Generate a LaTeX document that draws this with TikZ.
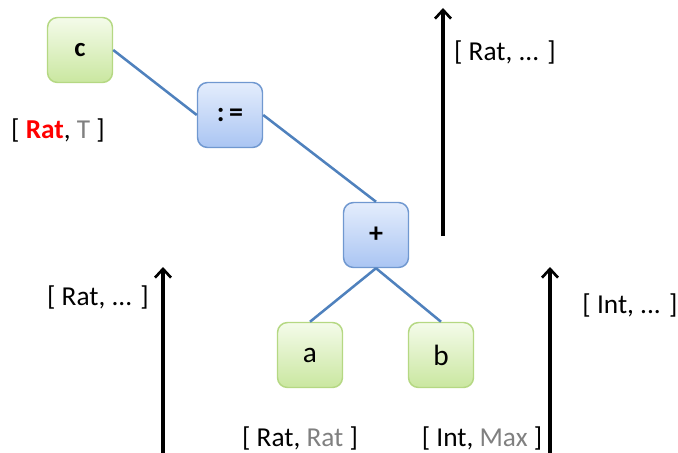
\documentclass[tikz,border=0pt]{standalone}
\usepackage{fontspec}
\setmainfont{Carlito}
\usetikzlibrary{positioning,arrows.meta}
\definecolor{leafbord}{HTML}{B5D883}
\definecolor{leaftop}{HTML}{F4FBEA}
\definecolor{leafbot}{HTML}{CAE7A0}
\definecolor{opbord}{HTML}{7098D0}
\definecolor{optop}{HTML}{E4EDFC}
\definecolor{opbot}{HTML}{AAC5F3}
\definecolor{edgeblue}{HTML}{4F81BD}
\definecolor{typegray}{HTML}{808080}
\tikzset{
  leaf/.style={rectangle,rounded corners=7.5pt,draw=leafbord,line width=1.1pt,
    top color=leaftop,bottom color=leafbot,minimum size=48.75pt,inner sep=0pt,
    font=\fontsize{22}{24}\selectfont},
  op/.style={rectangle,rounded corners=7.5pt,draw=opbord,line width=1.1pt,
    top color=optop,bottom color=opbot,minimum size=48.75pt,inner sep=0pt,
    font=\fontsize{21}{24}\selectfont\bfseries},
  tree/.style={draw=edgeblue,line width=1.9pt},
  flow/.style={-{Straight Barb[length=6.5pt,width=12pt,line width=2pt]},line width=2.3pt},
  ty/.style={font=\fontsize{20.5}{24}\selectfont,inner sep=0pt},
}
\newcommand{\grayty}[1]{\textcolor{typegray}{#1}}
\begin{document}
\begin{tikzpicture}[x=0.75pt,y=-0.75pt]
  \useasboundingbox (0,0) rectangle (678,453);
  % expression tree
  \node[leaf,font=\fontsize{20}{24}\selectfont\bfseries] (c) at (80,50) {c};
  \node[op] (asg) at (230,115) {:\,=};
  \node[op] (plus) at (376,235) {+};
  \node[leaf] (a) at (310,355) {a};
  \node[leaf] (b) at (441,355) {b};
  \draw[tree] (c.east) -- (asg.west);
  \draw[tree] (asg.east) -- (plus.north);
  \draw[tree] (plus.south) -- (a.north);
  \draw[tree] (plus.south) -- (b.north);
  % flow arrows
  \coordinate (lfrom) at (163,456);
  \coordinate (lto) at (163,267);
  \coordinate (mfrom) at (443,236);
  \coordinate (mto) at (443,8);
  \coordinate (rfrom) at (550,456);
  \coordinate (rto) at (550,267);
  \draw[flow] (lfrom) -- (lto);
  \draw[flow] (mfrom) -- (mto);
  \draw[flow] (rfrom) -- (rto);
  % type pairs
  \node[ty] (tc) at (58,130) {[ \textcolor{red}{\textbf{Rat}}, \grayty{T} ]};
  \node[ty] (tl) at (98,297) {[ Rat, ... ]};
  \node[ty] (tm) at (505,52) {[ Rat, ... ]};
  \node[ty] (tr) at (630,305) {[ Int, ... ]};
  \node[ty] (ta) at (300,438) {[ Rat, \grayty{Rat} ]};
  \node[ty] (tb) at (482,438) {[ Int, \grayty{Max} ]};
\end{tikzpicture}
\end{document}
